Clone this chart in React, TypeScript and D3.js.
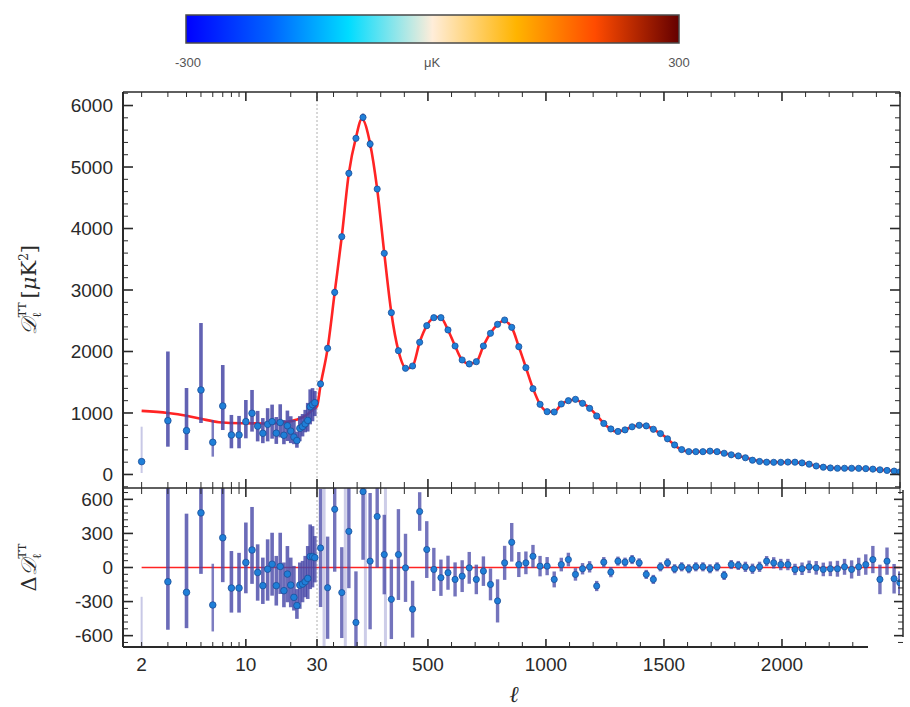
import React from 'react';
import * as d3 from 'd3';

// ---------- colour bar ----------
const colorbarOffsets = [0, 0.17, 0.33, 0.5, 0.67, 0.83, 1];
const colorbarColors = ['#0000ff', '#0062ff', '#00dcff', '#ffedd9', '#ffb400', '#ff4b00', '#640000'];
const colorbarTickLabels = ['-300', 'μK', '300'];

// ---------- axis ticks ----------
const xTickValues = [2, 10, 30, 500, 1000, 1500, 2000];
const xTickLabels = ['2', '10', '30', '500', '1000', '1500', '2000'];
const yTopTickValues = [0, 1000, 2000, 3000, 4000, 5000, 6000];
const yTopTickLabels = ['0', '1000', '2000', '3000', '4000', '5000', '6000'];
const yResTickValues = [-600, -300, 0, 300, 600];
const yResTickLabels = ['-600', '-300', '0', '300', '600'];

// ---------- low-ell data (2 <= ell < 30) ----------
const lowL = [2, 3, 4, 5, 6, 7, 8, 9, 10, 11, 12, 13, 14, 15, 16, 17, 18, 19, 20, 21, 22, 23, 24, 25, 26, 27, 28, 29];
const lowD = [209, 875, 713, 1374, 523, 1114, 642, 642, 859, 995, 786, 670, 815, 859, 672, 845, 638, 792, 705, 609, 552, 750, 779, 823, 879, 1101, 1136, 1167];
const lowErrDown = [185, 423, 315, 537, 233, 391, 216, 216, 271, 298, 248, 161, 277, 277, 175, 242, 146, 248, 195, 116, 117, 209, 160, 137, 181, 286, 271, 218];
const lowErrUp = [568, 1125, 693, 1089, 363, 666, 326, 310, 352, 379, 248, 247, 263, 277, 262, 297, 248, 247, 242, 277, 145, 199, 204, 227, 285, 283, 268, 190];
const lowRes = [-826, -125, -219, 481, -330, 262, -181, -181, 44, 154, -44, -160, -15, 29, -160, 9, -204, -58, -155, -263, -335, -155, -146, -125, -96, 96, 96, 87];
const faintLowL = [2];
const thinLowL = [6];

// ---------- high-ell binned data (ell >= 30) ----------
const highL = [45, 75, 105, 135, 165, 195, 225, 255, 285, 315, 345, 375, 405, 435, 465, 495, 525, 555, 585, 615,
  645, 675, 705, 735, 765, 795, 825, 855, 885, 915, 945, 975, 1005, 1035, 1065, 1095, 1125, 1155, 1185, 1215,
  1245, 1275, 1305, 1335, 1365, 1395, 1425, 1455, 1485, 1515, 1545, 1575, 1605, 1635, 1665, 1695, 1725, 1755, 1785, 1815,
  1845, 1875, 1905, 1935, 1965, 1995, 2025, 2055, 2085, 2115, 2145, 2175, 2205, 2235, 2265, 2295, 2325, 2355, 2385, 2415,
  2445, 2475, 2499];
const highD = [1472, 2052, 2962, 3867, 4898, 5467, 5808, 5374, 4642, 3597, 2631, 2013, 1727, 1764, 2150, 2420, 2550, 2550, 2350, 2089,
  1862, 1797, 1834, 2089, 2296, 2442, 2512, 2393, 2078, 1737, 1395, 1141, 1021, 1016, 1146, 1200, 1222, 1157, 1076, 951,
  830, 740, 700, 725, 775, 800, 790, 735, 665, 580, 480, 405, 372, 371, 371, 380, 371, 345, 320, 302,
  272, 232, 212, 200, 198, 198, 202, 200, 188, 168, 138, 118, 106, 101, 101, 101, 100, 95, 87, 76,
  66, 55, 40];
const highRes = [17.2, -17.8, 51.3, -22.1, 31.8, -48.4, 66.8, 5.6, 44.9, 11.4, -28.0, 11.4, -0.3, -36.7, 49.3, 15.8, -1.7, -9.0, -4.6, -10.5,
  -7.6, -0.3, -10.5, -3.2, -14.9, -29.4, 4.1, 22.2, 2.6, 4.1, 9.9, 1.2, 1.2, -10.5, 2.6, 7.0, -6.1, -1.1, 0.6, -16.3,
  4.7, -4.1, 5.6, 4.7, 7.0, 4.1, -6.1, -10.5, 0.6, 4.1, -1.1, 0.6, -1.1, 0.6, 0.6, -1.1, 0.6, -7.0, 2.6, 1.8,
  0.6, -1.1, 0.6, 5.6, 4.1, 2.6, 2.6, -1.7, -1.1, 0.6, -0.3, -1.7, -1.1, -1.1, 0.6, -1.7, 0.6, 2.6, 7.0, -10.5,
  5.6, -9.9, -13.4];
const highErr = [52, 45, 55, 40, 50, 45, 60, 60, 45, 35, 35, 40, 30, 25, 17, 25, 19, 16, 15, 15,
  14, 14, 13, 13, 14, 19, 15, 17, 11, 10, 10, 9, 8, 7, 6, 6, 5.5, 5, 5, 4.5,
  4.5, 4.5, 4, 4, 4, 4, 4, 4, 4, 4, 4, 4, 4, 4, 4, 4, 4, 4, 4, 4,
  4.5, 4.5, 4.5, 4.5, 5, 5, 5, 5, 5.5, 5.5, 6, 6, 6.5, 7, 7, 8, 8, 9, 12, 13,
  12, 13, 10];
// faint wide bands in the residual panel
const faintBandL = [60, 150, 235, 320];
const faintBandRes = [0, 0, 0, 0];
const faintBandErr = [90, 90, 90, 90];

// ---------- best-fit model ----------
const modelL = [2, 3, 4, 5, 6.6, 9.5, 13.6, 17.7, 21.8, 25.3, 28, 30,
  45, 75, 105, 135, 165, 195, 220, 255, 285, 315, 345, 375, 410, 435, 465, 495, 535, 555, 585, 615,
  645, 675, 705, 735, 765, 795, 820, 855, 885, 915, 945, 975, 1010, 1035, 1065, 1095, 1125, 1155, 1185, 1215,
  1260, 1295, 1330, 1365, 1400, 1435, 1470, 1505, 1535, 1570, 1600, 1640, 1670, 1700, 1730, 1760, 1790, 1820, 1855, 1885,
  1920, 1950, 1980, 2010, 2045, 2075, 2105, 2140, 2170, 2200, 2230, 2265, 2300, 2330, 2360, 2390, 2420, 2455, 2485];
const modelD = [1035, 1000, 955, 905, 850, 832, 830, 845, 890, 960, 1050, 1110,
  1450, 2050, 2960, 3870, 4900, 5480, 5780, 5380, 4640, 3600, 2630, 2010, 1720, 1760, 2150, 2420, 2560, 2550, 2350, 2090,
  1860, 1800, 1830, 2090, 2300, 2440, 2500, 2390, 2080, 1740, 1400, 1140, 1020, 1020, 1140, 1200, 1215, 1160, 1080, 960,
  780, 700, 720, 775, 800, 775, 700, 615, 510, 410, 375, 370, 372, 375, 365, 340, 315, 295, 262, 230,
  210, 200, 198, 196, 200, 190, 175, 145, 125, 110, 102, 100, 98, 96, 92, 85, 75, 65, 50];

const FONT = "'Liberation Sans', Arial, Helvetica, sans-serif";

export default function App() {
  const W = 910, H = 707;
  const left = 123, right = 900, split = 317;
  const top = 92, mid = 488, bottom = 647;
  const bottomAxisEnd = 868;
  const lowerRight = 903;

  const xLog = d3.scaleLog().domain([1.5, 30]).range([left, split]);
  const xLin = d3.scaleLinear().domain([30, 2500]).range([split, right]);
  const x = (l: number) => (l <= 30 ? xLog(l) : xLin(l));
  const yTop = d3.scaleLinear().domain([-220, 6220]).range([mid, top]);
  const yRes = d3.scaleLinear().domain([-700, 700]).range([bottom, mid]);
  const yResHi = d3.scaleLinear().domain([-70, 70]).range([bottom, mid]);

  const modelPts: [number, number][] = modelL.map((l, i) => [x(l), yTop(modelD[i])]);
  const modelPath = d3.line().curve(d3.curveMonotoneX)(modelPts) || '';

  // tick sets
  const xMinorLog = [2, 3, 4, 5, 6, 7, 8, 9, 20];
  const xMajorLog = [10, 30];
  const xMajorLin = [500, 1000, 1500, 2000];
  const xMinorLin = d3.range(100, 2500, 100).filter(v => !xMajorLin.includes(v));
  const xMinorAll = [...xMinorLog.map(x), ...xMinorLin.map(x), x(2500)];
  const xMajorAll = [...xMajorLog.map(x), ...xMajorLin.map(x)];

  const yTopMinor = d3.range(-200, 6201, 200).filter(v => v % 1000 !== 0);
  const yResMinor = d3.range(-660, 661, 60).filter(v => v % 300 !== 0);

  const axisColor = '#2a2a2a';
  const barColor = '#4646a6';
  const faintColor = '#c8c8e6';
  const dotFill = '#1f7fd8';
  const dotStroke = '#1d4e98';
  const red = '#ff2424';

  const bar = (key: string, cx: number, y1: number, y2: number, w: number, color: string, op: number) => (
    <rect key={key} x={cx - w / 2} y={Math.min(y1, y2)} width={w} height={Math.abs(y2 - y1)} fill={color} opacity={op} />
  );

  return (
    <svg width={W} height={H} style={{ position: 'absolute', left: 0, top: 0, background: '#fff' }} fontFamily={FONT}>
      <defs>
        <linearGradient id="cbar" x1="0" x2="1" y1="0" y2="0">
          {colorbarOffsets.map((o, i) => (
            <stop key={i} offset={o} stopColor={colorbarColors[i]} />
          ))}
        </linearGradient>
        <clipPath id="clipTop">
          <rect x={left} y={top} width={right - left} height={mid - top} />
        </clipPath>
        <clipPath id="clipBot">
          <rect x={left} y={mid} width={right - left} height={bottom - mid} />
        </clipPath>
      </defs>
      <rect x={0} y={0} width={W} height={H} fill="#fff" />

      {/* colour bar */}
      <rect x={186} y={15} width={493} height={28} fill="url(#cbar)" stroke="#4a4a4a" strokeWidth={1.5} />
      <text x={188} y={67} fontSize={13} fill="#555" textAnchor="middle">{colorbarTickLabels[0]}</text>
      <text x={432} y={67} fontSize={13} fill="#555" textAnchor="middle">{colorbarTickLabels[1]}</text>
      <text x={679} y={67} fontSize={13} fill="#555" textAnchor="middle">{colorbarTickLabels[2]}</text>

      {/* dotted ell=30 line */}
      <line x1={x(30)} x2={x(30)} y1={top} y2={bottom} stroke="#b0b0b0" strokeWidth={1} strokeDasharray="2,2" />

      {/* ---------- upper panel ---------- */}
      <g clipPath="url(#clipTop)">
        <path d={modelPath} fill="none" stroke={red} strokeWidth={2.6} />
        {lowL.map((l, i) =>
          bar('lb' + i, x(l), yTop(lowD[i] - lowErrDown[i]), yTop(lowD[i] + lowErrUp[i]),
            faintLowL.includes(l) ? 2 : thinLowL.includes(l) ? 2.5 : 3.6,
            faintLowL.includes(l) ? faintColor : barColor, faintLowL.includes(l) ? 1 : thinLowL.includes(l) ? 0.7 : 0.85)
        )}
        {highL.map((l, i) =>
          bar('hb' + i, x(l), yTop(highD[i] - highErr[i]), yTop(highD[i] + highErr[i]), 2.5, '#28287a', 0.9)
        )}
        {lowL.map((l, i) => (
          <circle key={'lp' + i} cx={x(l)} cy={yTop(lowD[i])} r={3.3} fill={dotFill} stroke={dotStroke} strokeWidth={0.8} />
        ))}
        {highL.map((l, i) => (
          <circle key={'hp' + i} cx={x(l)} cy={yTop(highD[i])} r={3.1} fill={dotFill} stroke={dotStroke} strokeWidth={0.8} />
        ))}
      </g>

      {/* ---------- lower panel ---------- */}
      <g clipPath="url(#clipBot)">
        {faintBandL.map((l, i) =>
          bar('fb' + i, x(l), yResHi(faintBandRes[i] - faintBandErr[i]), yResHi(faintBandRes[i] + faintBandErr[i]), 3, faintColor, 0.9)
        )}
        <line x1={x(2)} x2={x(2500)} y1={yRes(0)} y2={yRes(0)} stroke={red} strokeWidth={1.6} />
        {lowL.map((l, i) =>
          bar('lrb' + i, x(l), yRes(lowRes[i] - lowErrDown[i]), yRes(lowRes[i] + lowErrUp[i]),
            faintLowL.includes(l) ? 2 : thinLowL.includes(l) ? 2.5 : 3.6,
            faintLowL.includes(l) ? faintColor : barColor, faintLowL.includes(l) ? 1 : thinLowL.includes(l) ? 0.7 : 0.8)
        )}
        {highL.map((l, i) =>
          bar('hrb' + i, x(l), yResHi(highRes[i] - highErr[i]), yResHi(highRes[i] + highErr[i]), 3.4, barColor, 0.75)
        )}
        {lowL.map((l, i) => (
          <circle key={'lrp' + i} cx={x(l)} cy={yRes(lowRes[i])} r={3.3} fill={dotFill} stroke={dotStroke} strokeWidth={0.8} />
        ))}
        {highL.map((l, i) => (
          <circle key={'hrp' + i} cx={x(l)} cy={yResHi(highRes[i])} r={3.1} fill={dotFill} stroke={dotStroke} strokeWidth={0.8} />
        ))}
      </g>

      {/* ---------- frames ---------- */}
      <g stroke={axisColor} fill="none">
        <line x1={left} x2={left} y1={top} y2={bottom} strokeWidth={2} />
        <line x1={left} x2={right} y1={top} y2={top} strokeWidth={1.5} />
        <line x1={right} x2={right} y1={top} y2={mid} strokeWidth={1.5} />
        <line x1={left} x2={right} y1={mid} y2={mid} strokeWidth={1.5} />
        <line x1={left} x2={bottomAxisEnd} y1={bottom} y2={bottom} strokeWidth={2} />
        <line x1={lowerRight} x2={lowerRight} y1={mid + 2} y2={bottom - 10} strokeWidth={1.5} />
      </g>

      {/* x ticks */}
      <g stroke={axisColor}>
        {xMinorAll.map((px, i) => (
          <g key={'xm' + i}>
            <line x1={px} x2={px} y1={top} y2={top + 5} strokeWidth={1} />
            <line x1={px} x2={px} y1={mid - 6} y2={mid + 6} strokeWidth={1} />
            {px <= bottomAxisEnd && <line x1={px} x2={px} y1={bottom} y2={bottom - 5} strokeWidth={1} />}
          </g>
        ))}
        {xMajorAll.map((px, i) => (
          <g key={'xM' + i}>
            <line x1={px} x2={px} y1={top} y2={top + 9} strokeWidth={1.6} />
            <line x1={px} x2={px} y1={mid - 9} y2={mid + 9} strokeWidth={1.6} />
            <line x1={px} x2={px} y1={bottom} y2={bottom - 8} strokeWidth={1.6} />
          </g>
        ))}
      </g>

      {/* y ticks upper */}
      <g stroke={axisColor}>
        {yTopMinor.map((v, i) => (
          <g key={'ytm' + i}>
            <line x1={left} x2={left + 5} y1={yTop(v)} y2={yTop(v)} strokeWidth={1} />
            <line x1={right} x2={right - 5} y1={yTop(v)} y2={yTop(v)} strokeWidth={1} />
          </g>
        ))}
        {yTopTickValues.map((v, i) => (
          <g key={'ytM' + i}>
            <line x1={left} x2={left + 10} y1={yTop(v)} y2={yTop(v)} strokeWidth={1.6} />
            <line x1={right} x2={right - 10} y1={yTop(v)} y2={yTop(v)} strokeWidth={1.6} />
          </g>
        ))}
        {yResMinor.map((v, i) => (
          <g key={'yrm' + i}>
            <line x1={left} x2={left + 5} y1={yRes(v)} y2={yRes(v)} strokeWidth={1} />
            <line x1={lowerRight} x2={lowerRight - 5} y1={yRes(v)} y2={yRes(v)} strokeWidth={1} />
          </g>
        ))}
        {yResTickValues.map((v, i) => (
          <g key={'yrM' + i}>
            <line x1={left} x2={left + 10} y1={yRes(v)} y2={yRes(v)} strokeWidth={1.6} />
            <line x1={lowerRight} x2={lowerRight - 9} y1={yRes(v)} y2={yRes(v)} strokeWidth={1.6} />
          </g>
        ))}
      </g>

      {/* tick labels */}
      <g fill="#2a2a2a" fontSize={19}>
        {yTopTickValues.map((v, i) => (
          <text key={'ytl' + i} x={113} y={yTop(v)} dy="0.36em" textAnchor="end">{yTopTickLabels[i]}</text>
        ))}
        {yResTickValues.map((v, i) => (
          <text key={'yrl' + i} x={113} y={yRes(v)} dy="0.36em" textAnchor="end">{yResTickLabels[i]}</text>
        ))}
        {xTickValues.map((v, i) => (
          <text key={'xl' + i} x={x(v)} y={671} textAnchor="middle">{xTickLabels[i]}</text>
        ))}
      </g>

      {/* axis titles */}
      <text x={514} y={702} fontSize={23} fontStyle="italic" fill="#2a2a2a" textAnchor="middle"
        fontFamily="'DejaVu Serif', serif">ℓ</text>
      <text transform={`translate(36,${(top + mid) / 2}) rotate(-90)`} textAnchor="middle" fontSize={21} fill="#2a2a2a"
        fontFamily="'DejaVu Serif', serif">
        <tspan fontStyle="italic">𝒟</tspan>
        <tspan fontSize={12} dy={5}>ℓ</tspan>
        <tspan fontSize={11} dx={-5} dy={-15}>TT</tspan>
        <tspan dy={10} dx={4}>[</tspan>
        <tspan fontStyle="italic">μ</tspan>
        <tspan>K</tspan>
        <tspan fontSize={12} dy={-8}>2</tspan>
        <tspan dy={8}>]</tspan>
      </text>
      <text transform={`translate(36,${(mid + bottom) / 2}) rotate(-90)`} textAnchor="middle" fontSize={21} fill="#2a2a2a"
        fontFamily="'DejaVu Serif', serif">
        <tspan>Δ</tspan>
        <tspan fontStyle="italic">𝒟</tspan>
        <tspan fontSize={12} dy={5}>ℓ</tspan>
        <tspan fontSize={11} dx={-5} dy={-15}>TT</tspan>
      </text>
    </svg>
  );
}
